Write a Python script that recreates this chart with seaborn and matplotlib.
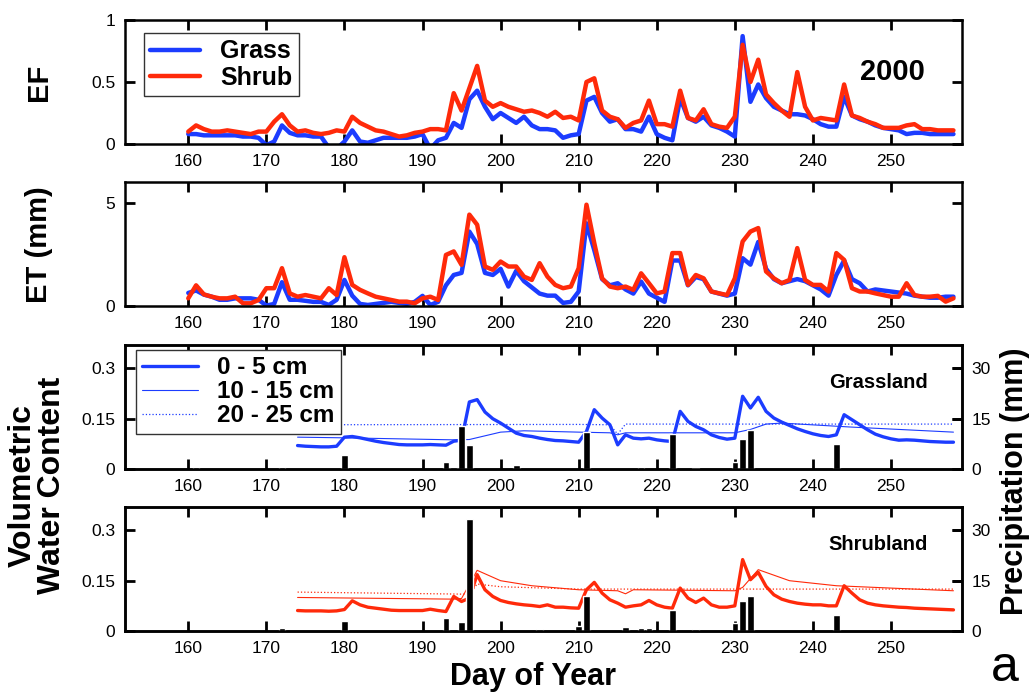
import numpy as np
import matplotlib
matplotlib.use('Agg')
import matplotlib.pyplot as plt
import seaborn as sns

sns.set_style('ticks')
plt.rcParams['font.family'] = ['Liberation Sans', 'DejaVu Sans']
for k in ['text.color', 'axes.labelcolor', 'xtick.color', 'ytick.color']:
    plt.rcParams[k] = 'black'

# ---- data ----
days = np.arange(160, 259)

ef_grass = [0.08, 0.08, 0.07, 0.07, 0.07, 0.07, 0.07, 0.06, 0.06, 0.05,
            -0.01, 0.02, 0.15, 0.09, 0.07, 0.07, 0.06, 0.06, -0.03, -0.04,
            0.02, 0.11, 0.02, 0.01, 0.03, 0.05, 0.05, 0.05, 0.05, 0.06,
            0.08, -0.04, 0.03, 0.05, 0.17, 0.13, 0.36, 0.43, 0.30, 0.20,
            0.25, 0.21, 0.17, 0.22, 0.15, 0.12, 0.12, 0.11, 0.05, 0.07,
            0.08, 0.35, 0.38, 0.25, 0.18, 0.20, 0.12, 0.12, 0.10, 0.22,
            0.08, 0.05, 0.03, 0.37, 0.21, 0.18, 0.22, 0.15, 0.13, 0.10,
            0.06, 0.87, 0.34, 0.48, 0.37, 0.30, 0.27, 0.24, 0.24, 0.23,
            0.20, 0.16, 0.14, 0.14, 0.38, 0.23, 0.20, 0.18, 0.15, 0.13,
            0.12, 0.11, 0.08, 0.09, 0.09, 0.08, 0.08, 0.08, 0.08]
ef_shrub = [0.10, 0.15, 0.12, 0.10, 0.10, 0.11, 0.10, 0.09, 0.08, 0.10,
            0.10, 0.18, 0.24, 0.15, 0.10, 0.11, 0.09, 0.08, 0.09, 0.11,
            0.10, 0.22, 0.17, 0.14, 0.11, 0.10, 0.08, 0.06, 0.07, 0.09,
            0.10, 0.12, 0.12, 0.11, 0.41, 0.27, 0.45, 0.63, 0.35, 0.30,
            0.33, 0.30, 0.28, 0.26, 0.27, 0.25, 0.22, 0.26, 0.21, 0.22,
            0.19, 0.50, 0.53, 0.27, 0.22, 0.20, 0.13, 0.17, 0.19, 0.35,
            0.16, 0.16, 0.14, 0.43, 0.21, 0.19, 0.28, 0.16, 0.14, 0.13,
            0.22, 0.80, 0.50, 0.68, 0.40, 0.33, 0.27, 0.22, 0.58, 0.30,
            0.19, 0.21, 0.20, 0.19, 0.48, 0.23, 0.21, 0.18, 0.16, 0.13,
            0.13, 0.13, 0.15, 0.16, 0.12, 0.12, 0.11, 0.11, 0.11]

et_grass = [0.63, 0.75, 0.55, 0.45, 0.30, 0.30, 0.37, 0.37, 0.37, 0.30,
            0.02, 0.10, 1.15, 0.30, 0.30, 0.25, 0.20, 0.20, 0.05, 0.30,
            1.26, 0.50, 0.10, 0.05, 0.10, 0.15, 0.20, 0.15, 0.10, 0.20,
            0.49, 0.05, 0.20, 1.00, 1.50, 1.60, 3.60, 3.00, 1.60, 1.50,
            1.80, 0.94, 1.70, 1.20, 0.90, 0.60, 0.50, 0.50, 0.15, 0.20,
            0.70, 4.00, 2.70, 1.30, 1.00, 1.10, 0.80, 0.60, 1.18, 0.60,
            0.40, 0.20, 2.20, 2.20, 1.00, 1.40, 1.30, 0.70, 0.60, 0.50,
            0.60, 2.31, 2.00, 3.10, 1.80, 1.30, 1.10, 1.20, 1.30, 1.20,
            1.00, 0.80, 0.50, 1.50, 2.20, 1.30, 1.10, 0.70, 0.80, 0.75,
            0.70, 0.65, 0.60, 0.50, 0.45, 0.40, 0.40, 0.45, 0.45]
et_shrub = [0.37, 1.00, 0.56, 0.45, 0.37, 0.37, 0.45, 0.13, 0.13, 0.29,
            0.86, 0.86, 1.83, 0.61, 0.45, 0.53, 0.45, 0.37, 0.86, 0.53,
            2.36, 1.02, 0.78, 0.61, 0.45, 0.37, 0.29, 0.21, 0.21, 0.13,
            0.37, 0.45, 0.29, 2.47, 2.64, 1.99, 4.42, 3.93, 1.91, 1.75,
            2.15, 1.91, 1.91, 1.42, 1.26, 2.07, 1.42, 1.02, 0.86, 0.94,
            1.83, 4.90, 3.04, 1.34, 0.94, 0.86, 0.94, 0.78, 1.58, 1.10,
            0.61, 0.70, 2.56, 2.56, 1.02, 1.50, 1.34, 0.70, 0.61, 0.53,
            1.34, 3.12, 3.60, 3.77, 1.67, 1.34, 1.10, 1.26, 2.80, 1.26,
            1.02, 1.02, 0.70, 2.56, 2.23, 0.86, 0.70, 0.70, 0.61, 0.53,
            0.45, 0.45, 1.10, 0.53, 0.45, 0.45, 0.49, 0.21, 0.37]

vwc_days = np.arange(174, 259)
grass_05 = [0.070, 0.068, 0.067, 0.066, 0.066, 0.068, 0.095, 0.097, 0.093, 0.088,
            0.083, 0.079, 0.076, 0.073, 0.072, 0.072, 0.072, 0.073, 0.072, 0.071,
            0.083, 0.086, 0.200, 0.207, 0.170, 0.150, 0.137, 0.122, 0.107, 0.100,
            0.097, 0.092, 0.088, 0.085, 0.084, 0.082, 0.080, 0.112, 0.177, 0.152,
            0.132, 0.072, 0.102, 0.092, 0.090, 0.092, 0.087, 0.084, 0.082, 0.172,
            0.142, 0.127, 0.117, 0.102, 0.094, 0.089, 0.092, 0.217, 0.182, 0.214,
            0.172, 0.152, 0.140, 0.130, 0.120, 0.112, 0.105, 0.100, 0.097, 0.102,
            0.162, 0.147, 0.132, 0.117, 0.104, 0.096, 0.090, 0.086, 0.087, 0.086,
            0.084, 0.082, 0.081, 0.080, 0.080]
shrub_05 = [0.061, 0.060, 0.060, 0.060, 0.059, 0.060, 0.064, 0.090, 0.078, 0.071,
            0.068, 0.065, 0.062, 0.061, 0.061, 0.061, 0.061, 0.065, 0.061, 0.058,
            0.103, 0.088, 0.098, 0.168, 0.123, 0.103, 0.091, 0.085, 0.081, 0.078,
            0.076, 0.073, 0.078, 0.071, 0.071, 0.069, 0.068, 0.123, 0.145, 0.113,
            0.093, 0.083, 0.071, 0.075, 0.078, 0.091, 0.078, 0.071, 0.068, 0.128,
            0.098, 0.085, 0.098, 0.078, 0.071, 0.071, 0.075, 0.213, 0.153, 0.175,
            0.133, 0.108, 0.095, 0.088, 0.083, 0.080, 0.078, 0.078, 0.075, 0.075,
            0.135, 0.113, 0.093, 0.083, 0.078, 0.075, 0.073, 0.071, 0.070, 0.068,
            0.067, 0.066, 0.065, 0.064, 0.063]

grass_1015_days = [174, 180, 194, 196, 200, 203, 210, 214, 215, 216, 230, 232, 234, 236, 245, 258]
grass_1015 = [0.095, 0.093, 0.087, 0.088, 0.110, 0.114, 0.110, 0.108, 0.102, 0.108,
              0.108, 0.118, 0.134, 0.137, 0.125, 0.110]
grass_2025_days = [174, 210, 214, 215, 216, 258]
grass_2025 = [0.132, 0.133, 0.132, 0.104, 0.134, 0.134]

shrub_1015_days = [174, 194, 195, 197, 200, 204, 210, 215, 216, 217, 230, 231, 233, 237, 243, 258]
shrub_1015 = [0.100, 0.095, 0.097, 0.181, 0.150, 0.135, 0.123, 0.120, 0.111, 0.123,
              0.120, 0.130, 0.183, 0.150, 0.135, 0.120]
shrub_2025_days = [174, 195, 196, 197, 200, 210, 258]
shrub_2025 = [0.116, 0.110, 0.110, 0.140, 0.132, 0.125, 0.125]

p_grass_days = [161, 172, 180, 193, 194, 195, 196, 202, 211, 218, 222, 225, 230, 231, 232, 243]
p_grass = [0.7, 0.5, 4.2, 2.0, 0.5, 12.7, 7.2, 1.3, 11.0, 0.5, 10.5, 0.3, 2.2, 8.9, 11.7, 7.5]
p_shrub_days = [172, 180, 193, 195, 196, 205, 210, 211, 216, 218, 219, 222, 225, 230, 231, 232, 243]
p_shrub = [0.8, 3.0, 3.8, 2.8, 33.5, 0.5, 1.5, 10.3, 1.3, 0.8, 0.8, 6.3, 0.5, 2.3, 8.8, 10.3, 4.8]

xticks = [160, 170, 180, 190, 200, 210, 220, 230, 240, 250]

blue = '#1c3cff'
red = '#ff2a0a'

fig = plt.figure(figsize=(10.35, 6.94), dpi=100)
L, W, H = 0.1208, 0.8087, 0.1787
ax1 = fig.add_axes([L, 0.7925, W, H])
ax2 = fig.add_axes([L, 0.5591, W, H])
ax3 = fig.add_axes([L, 0.3242, W, H])
ax4 = fig.add_axes([L, 0.0908, W, H])


def frame(ax):
    ax.set_xlim(151.9, 259.1)
    ax.set_xticks(xticks)
    for s in ax.spines.values():
        s.set_visible(True)
        s.set_linewidth(1.8)
        s.set_color('black')
    ax.set_xlabel('')
    ax.set_ylabel('')


# EF
sns.lineplot(x=days, y=ef_grass, ax=ax1, color=blue, lw=3.2, label='Grass')
sns.lineplot(x=days, y=ef_shrub, ax=ax1, color=red, lw=3.2, label='Shrub')
frame(ax1)
ax1.set_ylim(0, 1)
ax1.set_yticks([0, 0.5, 1])
ax1.set_yticklabels(['0', '0.5', '1'])
leg = ax1.legend(loc='upper left', bbox_to_anchor=(0.0226, 0.895), borderaxespad=0,
                 fancybox=False, edgecolor='#333333', framealpha=1,
                 prop={'weight': 'bold', 'size': 18}, handlelength=2.0,
                 borderpad=0.25, labelspacing=0.1, handletextpad=0.8)
leg.get_frame().set_linewidth(1.0)
ax1.text(0.917, 0.58, '2000', transform=ax1.transAxes, ha='center', va='center',
         fontsize=21, fontweight='bold')

# ET
sns.lineplot(x=days, y=et_grass, ax=ax2, color=blue, lw=3.2, legend=False)
sns.lineplot(x=days, y=et_shrub, ax=ax2, color=red, lw=3.2, legend=False)
frame(ax2)
ax2.set_ylim(0, 6)
ax2.set_yticks([0, 5])
ax2.set_yticklabels(['0', '5'])


def vwc_panel(ax, col, d05, v05, d1015, v1015, d2025, v2025, pd, pv, name, legend):
    sns.lineplot(x=d05, y=v05, ax=ax, color=col, lw=2.4, label='0 - 5 cm')
    sns.lineplot(x=d1015, y=v1015, ax=ax, color=col, lw=0.8, label='10 - 15 cm')
    sns.lineplot(x=d2025, y=v2025, ax=ax, color=col, lw=0.9, ls=':', label='20 - 25 cm')
    handles, labels = ax.get_legend_handles_labels()
    ax.get_legend().remove()
    frame(ax)
    ax.set_ylim(0, 0.37)
    ax.set_yticks([0, 0.15, 0.3])
    ax.set_yticklabels(['0', '0.15', '0.3'])
    tw = ax.twinx()
    tw.bar(pd, pv, width=0.85, color='black')
    tw.set_ylim(0, 37)
    tw.set_yticks([0, 15, 30])
    for s in tw.spines.values():
        s.set_linewidth(1.8)
        s.set_color('black')
    tw.grid(False)
    tw.text(0.90, 0.694, name, transform=ax.transAxes, ha='center', va='center',
            fontsize=14.5, fontweight='bold')
    if legend:
        lg = tw.legend(handles, labels, loc='upper left', bbox_to_anchor=(0.013, 0.96),
                       borderaxespad=0, fancybox=False, edgecolor='#333333', framealpha=1,
                       prop={'weight': 'bold', 'size': 17.5}, handlelength=2.3,
                       borderpad=0.25, labelspacing=0.05, handletextpad=0.8)
        lg.get_frame().set_linewidth(1.0)
    return tw


tw3 = vwc_panel(ax3, blue, vwc_days, grass_05, grass_1015_days, grass_1015,
                grass_2025_days, grass_2025, p_grass_days, p_grass, 'Grassland', True)
tw4 = vwc_panel(ax4, red, vwc_days, shrub_05, shrub_1015_days, shrub_1015,
                shrub_2025_days, shrub_2025, p_shrub_days, p_shrub, 'Shrubland', False)

# inward MATLAB-style ticks, set last so nothing resets them
for ax in (ax1, ax2, ax3, ax4):
    ax.tick_params(direction='in', length=7, width=2, color='black', top=True, right=True)
    ax.tick_params(labelsize=12.5, pad=7)
for tw in (tw3, tw4):
    tw.tick_params(axis='y', direction='in', length=7, width=2, color='black', right=True)
    tw.tick_params(axis='y', labelsize=12.5, pad=7)

fig.text(0.038, 0.882, 'EF', rotation=90, ha='center', va='center', fontsize=21, fontweight='bold')
fig.text(0.038, 0.648, 'ET (mm)', rotation=90, ha='center', va='center', fontsize=21, fontweight='bold')
fig.text(0.036, 0.300, 'Volumetric\nWater Content', rotation=90, ha='center', va='center',
         fontsize=23, fontweight='bold', linespacing=0.95)
fig.text(0.981, 0.307, 'Precipitation (mm)', rotation=90, ha='center', va='center',
         fontsize=22, fontweight='bold')
fig.text(0.515, 0.024, 'Day of Year', ha='center', va='center', fontsize=22, fontweight='bold')
fig.text(0.971, 0.038, 'a', ha='center', va='center', fontsize=36)

fig.savefig('out.png', dpi=100)
